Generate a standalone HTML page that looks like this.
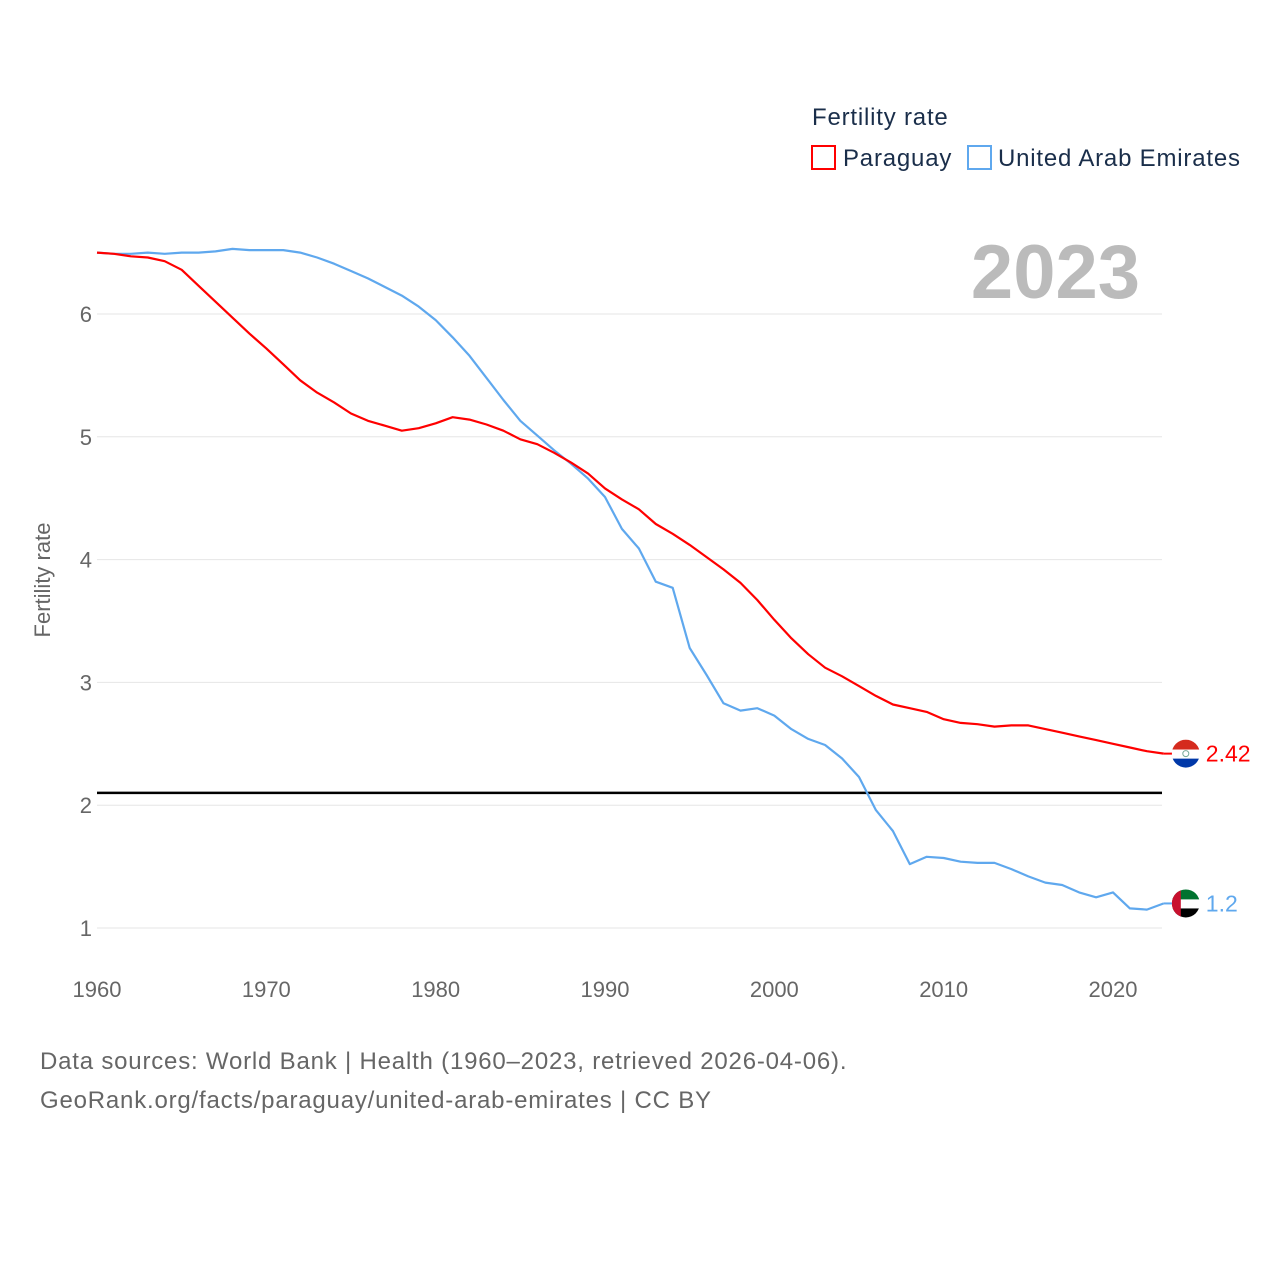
<!DOCTYPE html>
<html><head><meta charset="utf-8">
<style>
body{margin:0;background:#fff;font-family:"Liberation Sans",sans-serif;}
svg text{font-family:"Liberation Sans",sans-serif;}
.ls{letter-spacing:0.8px;}
</style></head>
<body>
<svg id="chart" width="1280" height="1280" viewBox="0 0 1280 1280">
  <g id="grid"></g>
  <g id="yticks"></g>
  <g id="xticks"></g>
  <text x="50" y="580" transform="rotate(-90 50 580)" text-anchor="middle" font-size="22" fill="#666">Fertility rate</text>
  <text x="1140" y="298" text-anchor="end" font-size="76" font-weight="bold" fill="#bbb">2023</text>
  <g id="series"></g>
  <g>
    <text class="ls" x="812" y="125" font-size="24" fill="#1a2e4a">Fertility rate</text>
    <g>
      <rect x="812" y="146" width="23" height="23" fill="none" stroke="#f00" stroke-width="2"/>
      <text class="ls" x="843" y="166" font-size="24" fill="#1a2e4a">Paraguay</text>
    </g>
    <g>
      <rect x="968" y="146" width="23" height="23" fill="none" stroke="#5fa8ee" stroke-width="2"/>
      <text class="ls" x="998" y="166" font-size="24" fill="#1a2e4a">United Arab Emirates</text>
    </g>
  </g>
  <text class="ls" x="40" y="1069" font-size="24" fill="#666">Data sources: World Bank | Health (1960–2023, retrieved 2026-04-06).</text>
  <text class="ls" x="40" y="1108" font-size="24" fill="#666">GeoRank.org/facts/paraguay/united-arab-emirates | CC BY</text>
</svg>
<script>
const years = [];
for (let y = 1960; y <= 2023; y++) years.push(y);
const paraguay = [6.5,6.49,6.47,6.46,6.43,6.36,6.23,6.1,5.97,5.84,5.72,5.59,5.46,5.36,5.28,5.19,5.13,5.09,5.05,5.07,5.11,5.16,5.14,5.10,5.05,4.98,4.94,4.87,4.79,4.70,4.58,4.49,4.41,4.29,4.21,4.12,4.02,3.92,3.81,3.67,3.51,3.36,3.23,3.12,3.05,2.97,2.89,2.82,2.79,2.76,2.70,2.67,2.66,2.64,2.65,2.65,2.62,2.59,2.56,2.53,2.50,2.47,2.44,2.42];
const uae = [6.5,6.49,6.49,6.5,6.49,6.5,6.5,6.51,6.53,6.52,6.52,6.52,6.5,6.46,6.41,6.35,6.29,6.22,6.15,6.06,5.95,5.81,5.66,5.48,5.30,5.13,5.01,4.89,4.78,4.66,4.51,4.25,4.09,3.82,3.77,3.28,3.06,2.83,2.77,2.79,2.73,2.62,2.54,2.49,2.38,2.23,1.96,1.79,1.52,1.58,1.57,1.54,1.53,1.53,1.48,1.42,1.37,1.35,1.29,1.25,1.29,1.16,1.15,1.2];
const yTicks = [1,2,3,4,5,6];
const xTicks = [1960,1970,1980,1990,2000,2010,2020];
const replacement = 2.1;

const NS = "http://www.w3.org/2000/svg";
const X = yr => 97 + (yr - 1960) * (1016/60);
const Y = v => 928 - (v - 1) * 122.8;
function mk(tag, attrs, parent){const e=document.createElementNS(NS,tag);for(const k in attrs)e.setAttribute(k,attrs[k]);parent.appendChild(e);return e;}

const grid=document.getElementById('grid'), yt=document.getElementById('yticks'), xt=document.getElementById('xticks'), ser=document.getElementById('series');
yTicks.forEach(v=>{
  const l=mk('line',{x1:97,x2:1162,y1:Y(v),y2:Y(v),stroke:'#e6e6e6','stroke-width':1},grid);
  
  
  const t=mk('text',{x:92,y:Y(v)+8,'text-anchor':'end','font-size':22,fill:'#666'},yt);
  t.textContent=v;
  
  
});
xTicks.forEach(v=>{
  const t=mk('text',{x:X(v),y:997,'text-anchor':'middle','font-size':22,fill:'#666'},xt);
  t.textContent=v;
  
  
});
const ref=mk('line',{x1:97,x2:1162,y1:Y(replacement),y2:Y(replacement),stroke:'#000','stroke-width':2.5},ser);



function line(vals,color,name){
  const d=vals.map((v,i)=>(i?'L':'M')+X(years[i]).toFixed(1)+','+Y(v).toFixed(1)).join('');
  const p=mk('path',{d:d,fill:'none',stroke:color,'stroke-width':2.2,'stroke-linejoin':'round'},ser);
  
  
}
line(uae,'#5fa8ee','uae-line');
line(paraguay,'#f00','paraguay-line');

function endLabel(vals,color,name,colors){
  const v=vals[vals.length-1], x=X(2023), y=Y(v);
  const g=mk('g',{},ser);
  
  
  mk('line',{x1:x,x2:x+12,y1:y,y2:y,stroke:color,'stroke-width':2},g);
  const cx=x+22;
  const cp=mk('clipPath',{id:name+'-clip'},g);
  mk('circle',{cx:cx,cy:y,r:14},cp);
  const fg=mk('g',{'clip-path':'url(#'+name+'-clip)'},g);
  colors(fg,cx,y);
  const t=mk('text',{x:cx+20,y:y+8,'font-size':23,fill:color},g);
  t.textContent=v;
}
endLabel(paraguay,'#f00','paraguay-end-label',(g,cx,cy)=>{
  mk('rect',{x:cx-14,y:cy-14,width:28,height:10,fill:'#d52b1e'},g);
  mk('rect',{x:cx-14,y:cy-4,width:28,height:9,fill:'#fff'},g);
  mk('rect',{x:cx-14,y:cy+5,width:28,height:10,fill:'#0038a8'},g);
  mk('circle',{cx:cx,cy:cy,r:3,fill:'none',stroke:'#7a9',"stroke-width":1},g);
});
endLabel(uae,'#5fa8ee','uae-end-label',(g,cx,cy)=>{
  mk('rect',{x:cx-14,y:cy-14,width:28,height:10,fill:'#00732f'},g);
  mk('rect',{x:cx-14,y:cy-4,width:28,height:9,fill:'#fff'},g);
  mk('rect',{x:cx-14,y:cy+5,width:28,height:10,fill:'#000'},g);
  mk('rect',{x:cx-14,y:cy-14,width:9,height:28,fill:'#c8102e'},g);
});
</script>
</body></html>
